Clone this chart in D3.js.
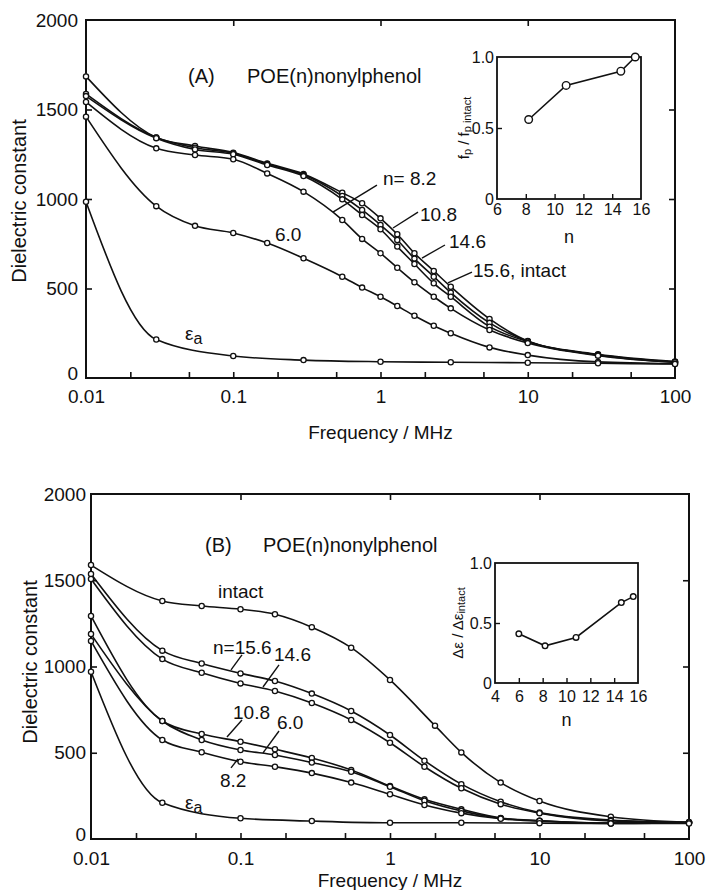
<!DOCTYPE html>
<html><head><meta charset="utf-8">
<script src="https://cdn.jsdelivr.net/npm/d3@7"></script>
<style>
body{margin:0;background:#fff}
svg{display:block}
text{font-family:"Liberation Sans",Arial,sans-serif;fill:#111}
</style></head><body>
<svg id="c" width="709" height="890"></svg>
<script>
// ---------- DATA : panel (A) ----------
const freqA   = [0.01,0.03,0.055,0.1,0.17,0.3,0.55,0.75,1,1.3,1.7,2.3,3,5.5,10,30,100];
const aN156   = [1685,1344,1296,1259,1199,1140,1035,976,892,803,697,598,510,330,207,132,92];
const aN146   = [1587,1344,1286,1255,1195,1135,1017,939,855,771,667,566,477,308,205,130,90];
const aN108   = [1575,1340,1277,1250,1190,1128,998,911,831,734,637,529,454,287,203,128,88];
const aN82    = [1542,1283,1246,1222,1143,1041,883,777,697,616,535,454,389,268,195,125,88];
const aN60    = [1460,960,850,810,754,669,566,505,454,402,348,292,250,171,128,90,80];
const freqAea = [0.01,0.03,0.1,0.3,1,3,10,30,100];
const aEa     = [985,215,123,100,91,88,85,82,78];
// inset (A)
const insetAn     = [8.2,10.8,14.6,15.6];
const insetAratio = [0.56,0.80,0.90,1.0];

// ---------- DATA : panel (B) ----------
const freqB       = [0.01,0.03,0.055,0.1,0.17,0.3,0.55,1,1.7,3,5.5,10,30,100];
const freqBintact = [0.01,0.03,0.055,0.1,0.17,0.3,0.55,1,2,3,5.5,10,30,100];
const bIntact = [1588,1380,1351,1332,1303,1228,1109,922,657,502,327,220,129,97];
const bN156   = [1536,1092,1017,960,916,843,742,603,454,318,216,153,110,96];
const bN146   = [1507,1043,964,902,858,788,690,558,419,294,202,150,105,96];
const bN108   = [1293,684,609,564,520,470,400,307,230,172,122,106,92,96];
const bN60    = [1188,684,574,516,487,443,390,303,222,163,120,106,92,96];
const bN82    = [1148,574,503,448,419,382,327,259,197,150,117,104,90,96];
const freqBea = [0.01,0.03,0.1,0.3,1,3,10,30,100];
const bEa     = [970,210,120,104,94,94,92,90,90];
// inset (B)
const insetBn     = [6.0,8.2,10.8,14.6,15.6];
const insetBratio = [0.41,0.31,0.38,0.67,0.72];

// ticks
const yTicksMain  = [0,500,1000,1500,2000];
const xLabelTicks = [0.01,0.1,1,10,100];
const xLabelText  = ["0.01","0.1","1","10","100"];
const xMinorTicks = [0.02,0.05,0.1,0.2,0.5,1,2,5,10,20,50];
const xTopTicks   = [0.1,1,10];
const yInnerTicks = [500,1000,1500];

const svg = d3.select("#c");
const FONT = 19;

function zip(f,v){ return f.map((d,i)=>({f:d,v:v[i]})); }

function drawPanel(cfg){
  const x = d3.scaleLog().domain([0.01,100]).range([cfg.l,cfg.r]);
  const y = d3.scaleLinear().domain([0,2000]).range([cfg.b,cfg.t]);
  const g = svg.append("g");
  const strip = s=>s.call(a=>a.select(".domain").remove());

  // inward ticks
  g.append("g").attr("transform",`translate(0,${cfg.b})`)
    .call(d3.axisBottom(x).tickValues(xMinorTicks).tickSize(-6).tickSizeOuter(0).tickFormat(""))
    .call(strip).selectAll("line").attr("stroke","#111").attr("stroke-width",1.6);
  g.append("g").attr("transform",`translate(0,${cfg.t})`)
    .call(d3.axisTop(x).tickValues(xTopTicks).tickSize(-6).tickSizeOuter(0).tickFormat(""))
    .call(strip).selectAll("line").attr("stroke","#111").attr("stroke-width",1.6);
  g.append("g").attr("transform",`translate(${cfg.l},0)`)
    .call(d3.axisLeft(y).tickValues(yInnerTicks).tickSize(-6).tickSizeOuter(0).tickFormat(""))
    .call(strip).selectAll("line").attr("stroke","#111").attr("stroke-width",1.6);
  g.append("g").attr("transform",`translate(${cfg.r},0)`)
    .call(d3.axisRight(y).tickValues(yInnerTicks).tickSize(-6).tickSizeOuter(0).tickFormat(""))
    .call(strip).selectAll("line").attr("stroke","#111").attr("stroke-width",1.6);

  // tick labels
  g.append("g").attr("transform",`translate(0,${cfg.b})`)
    .call(d3.axisBottom(x).tickValues(xLabelTicks).tickSize(0).tickPadding(cfg.xpad)
      .tickFormat((d,i)=>xLabelText[i]))
    .call(strip).attr("font-size",FONT);
  g.append("g").attr("transform",`translate(${cfg.l},0)`)
    .call(d3.axisLeft(y).tickValues(yTicksMain).tickSize(0).tickPadding(cfg.ypad).tickFormat(d3.format("d")))
    .call(strip).attr("font-size",FONT)
    .selectAll(".tick text").filter(d=>d===0).attr("y",-5);

  // frame
  g.append("rect").attr("x",cfg.l).attr("y",cfg.t).attr("width",cfg.r-cfg.l).attr("height",cfg.b-cfg.t)
    .attr("fill","none").attr("stroke","#111").attr("stroke-width",2);

  // axis titles
  g.append("text").attr("x",(cfg.l+cfg.r)/2).attr("y",cfg.xtitleY).attr("text-anchor","middle")
    .attr("dominant-baseline","central").attr("font-size",FONT).text("Frequency / MHz");
  g.append("text").attr("transform",`translate(${cfg.ytitleX},${cfg.ytitleY}) rotate(-90)`)
    .attr("text-anchor","middle").attr("dominant-baseline","central").attr("font-size",20)
    .text("Dielectric constant");

  // curves
  const line = d3.line().x(d=>x(d.f)).y(d=>y(d.v)).curve(d3.curveMonotoneX);
  cfg.series.forEach(s=>{
    g.append("path").attr("d",line(s)).attr("fill","none").attr("stroke","#111").attr("stroke-width",1.6);
  });
  cfg.series.forEach(s=>{
    g.append("g").selectAll("circle").data(s).join("circle")
      .attr("cx",d=>x(d.f)).attr("cy",d=>y(d.v)).attr("r",2.6)
      .attr("fill","#fff").attr("stroke","#111").attr("stroke-width",1.3);
  });

  // annotations (data coords)
  cfg.texts.forEach(t=>{
    const el = g.append("text").attr("x",x(t.f)).attr("y",y(t.v)).attr("dominant-baseline","central")
      .attr("font-size",t.size||FONT);
    if(t.eps){
      el.append("tspan").text("ε");
      el.append("tspan").attr("dy",5).attr("font-size",16).text("a");
    } else el.text(t.s);
  });
  cfg.leaders.forEach(L=>{
    g.append("line").attr("x1",x(L[0])).attr("y1",y(L[1])).attr("x2",x(L[2])).attr("y2",y(L[3]))
      .attr("stroke","#111").attr("stroke-width",1.4);
  });
  return {x,y};
}

function drawInset(cfg){
  const x = d3.scaleLinear().domain(cfg.xd).range([cfg.l,cfg.r]);
  const y = d3.scaleLinear().domain([0,1]).range([cfg.b,cfg.t]);
  const g = svg.append("g");
  const strip = s=>s.call(a=>a.select(".domain").remove());
  g.append("rect").attr("x",cfg.l).attr("y",cfg.t).attr("width",cfg.r-cfg.l).attr("height",cfg.b-cfg.t)
    .attr("fill","#fff");
  g.append("g").attr("transform",`translate(0,${cfg.b})`)
    .call(d3.axisBottom(x).tickValues(cfg.inTicks).tickSize(-5).tickSizeOuter(0).tickFormat(""))
    .call(strip).selectAll("line").attr("stroke","#111").attr("stroke-width",1.4);
  g.append("g").attr("transform",`translate(${cfg.l},0)`)
    .call(d3.axisLeft(y).tickValues([0.5]).tickSize(-5).tickSizeOuter(0).tickFormat(""))
    .call(strip).selectAll("line").attr("stroke","#111").attr("stroke-width",1.4);
  g.append("g").attr("transform",`translate(0,${cfg.b})`)
    .call(d3.axisBottom(x).tickValues(cfg.labTicks).tickSize(0).tickPadding(cfg.xpad).tickFormat(d3.format("d")))
    .call(strip).attr("font-size",16);
  g.append("g").attr("transform",`translate(${cfg.l},0)`)
    .call(d3.axisLeft(y).tickValues([0,0.5,1]).tickSize(0).tickPadding(3)
      .tickFormat(d=>d===0?"0":d.toFixed(1)))
    .call(strip).attr("font-size",16);
  g.append("rect").attr("x",cfg.l).attr("y",cfg.t).attr("width",cfg.r-cfg.l).attr("height",cfg.b-cfg.t)
    .attr("fill","none").attr("stroke","#111").attr("stroke-width",1.8);
  g.append("text").attr("x",(cfg.l+cfg.r)/2).attr("y",cfg.nY).attr("text-anchor","middle")
    .attr("dominant-baseline","central").attr("font-size",18).text("n");
  const yl = g.append("text").attr("transform",`translate(${cfg.ylX},${(cfg.t+cfg.b)/2}) rotate(-90)`)
    .attr("text-anchor","middle").attr("dominant-baseline","central").attr("font-size",15);
  cfg.ylabel(yl);
  const data = cfg.n.map((d,i)=>({n:d,r:cfg.ratio[i]}));
  g.append("path").attr("d",d3.line().x(d=>x(d.n)).y(d=>y(d.r))(data))
    .attr("fill","none").attr("stroke","#111").attr("stroke-width",1.6);
  g.selectAll(".pt").data(data).join("circle")
    .attr("cx",d=>x(d.n)).attr("cy",d=>y(d.r)).attr("r",cfg.pr)
    .attr("fill","#fff").attr("stroke","#111").attr("stroke-width",1.4);
}

// ---------- Panel A ----------
drawPanel({
  l:86, r:675, t:20, b:378, xpad:12, ypad:8, xtitleY:432, ytitleX:19, ytitleY:201,
  series:[zip(freqA,aN156),zip(freqA,aN146),zip(freqA,aN108),zip(freqA,aN82),zip(freqA,aN60),zip(freqAea,aEa)],
  texts:[
    {f:0.0493,v:1687,s:"(A)",size:20},
    {f:0.124,v:1687,s:"POE(n)nonylphenol",size:20},
    {f:1.04,v:1117,s:"n= 8.2"},
    {f:1.855,v:916,s:"10.8"},
    {f:2.92,v:760,s:"14.6"},
    {f:4.25,v:603,s:"15.6, intact"},
    {f:0.192,v:804,s:"6.0"},
    {f:0.047,v:251,eps:true}
  ],
  leaders:[
    [0.946,1078,0.475,927],
    [1.798,927,1.216,838],
    [2.74,743,1.913,670],
    [4.18,592,2.87,531]
  ]
});
drawInset({
  l:497, r:641, t:57, b:199, xd:[6,16], inTicks:[8,10,12,14], labTicks:[6,8,10,12,14,16],
  xpad:5, nY:237, ylX:463, pr:3.8, n:insetAn, ratio:insetAratio,
  ylabel:t=>{
    t.append("tspan").text("f");
    t.append("tspan").attr("dy",4).attr("font-size",11).text("p");
    t.append("tspan").attr("dy",-4).text(" / f");
    t.append("tspan").attr("dy",4).attr("font-size",11).text("p intact");
  }
});

// ---------- Panel B ----------
drawPanel({
  l:91, r:689, t:494, b:839, xpad:13, ypad:5, xtitleY:880, ytitleX:30, ytitleY:662,
  series:[zip(freqBintact,bIntact),zip(freqB,bN156),zip(freqB,bN146),zip(freqB,bN108),zip(freqB,bN60),zip(freqB,bN82),zip(freqBea,bEa)],
  texts:[
    {f:0.0579,v:1704,s:"(B)",size:20},
    {f:0.1414,v:1704,s:"POE(n)nonylphenol",size:20},
    {f:0.0707,v:1432,s:"intact"},
    {f:0.0655,v:1113,s:"n=15.6"},
    {f:0.1675,v:1072,s:"14.6"},
    {f:0.0891,v:736,s:"10.8"},
    {f:0.1754,v:678,s:"6.0"},
    {f:0.0729,v:342,s:"8.2"},
    {f:0.0425,v:214,eps:true}
  ],
  leaders:[
    [0.1023,1067,0.0864,980],
    [0.181,1009,0.1414,881],
    [0.1023,690,0.0812,591],
    [0.181,626,0.1414,499],
    [0.0864,412,0.0962,464]
  ]
});
drawInset({
  l:495, r:638, t:563, b:683, xd:[4,16], inTicks:[6,8,10,12,14], labTicks:[4,6,8,10,12,14,16],
  xpad:8, nY:720, ylX:457, pr:2.8, n:insetBn, ratio:insetBratio,
  ylabel:t=>{
    t.append("tspan").text("Δε / Δε");
    t.append("tspan").attr("dy",4).attr("font-size",11).text("intact");
  }
});
</script>
</body></html>
